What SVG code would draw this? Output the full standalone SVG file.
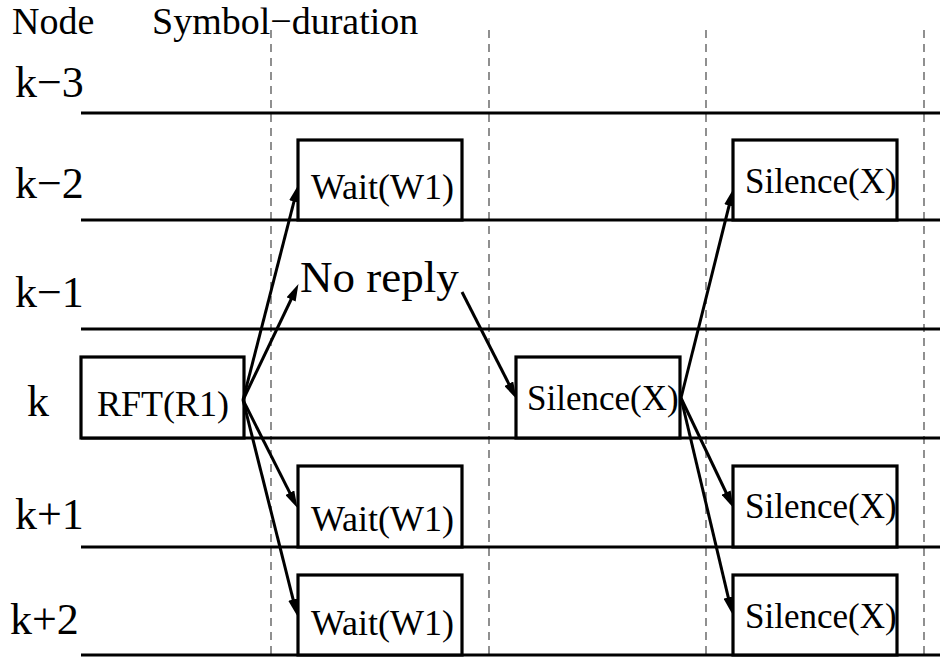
<svg xmlns="http://www.w3.org/2000/svg" width="940" height="659" viewBox="0 0 940 659">
<style>
  .hdr { font-size: 38px; }
  .lbl { font-size: 44px; }
  .nr { font-size: 45px; }
  .box { font-size: 36px; }
  .sil { font-size: 35px; }
  .lane { stroke: #000; stroke-width: 3.2; fill: none; }
  .frame { stroke: #000; stroke-width: 3.2; fill: #fff; }
  .grid { stroke: #555; stroke-width: 1.3; stroke-dasharray: 8 6; fill: none; }
  .arr { stroke: #000; stroke-width: 3; fill: none; marker-end: url(#ah); }
</style>
<defs>
  <marker id="ah" markerUnits="userSpaceOnUse" markerWidth="17" markerHeight="10" refX="6" refY="5" orient="auto" viewBox="0 0 17 10">
    <path d="M0,0 L17,5 L0,10 Z" fill="#000"/>
  </marker>
</defs>
<rect width="940" height="659" fill="#fff"/>

<g id="grid">
  <line class="grid" x1="271" y1="30" x2="271" y2="659"/>
  <line class="grid" x1="489" y1="30" x2="489" y2="659"/>
  <line class="grid" x1="706" y1="30" x2="706" y2="659"/>
  <line class="grid" x1="924" y1="30" x2="924" y2="659"/>
</g>

<g id="lanes">
  <line class="lane" x1="81" y1="113" x2="940" y2="113"/>
  <line class="lane" x1="81" y1="220" x2="940" y2="220"/>
  <line class="lane" x1="81" y1="329" x2="940" y2="329"/>
  <line class="lane" x1="81" y1="438" x2="940" y2="438"/>
  <line class="lane" x1="81" y1="547" x2="940" y2="547"/>
  <line class="lane" x1="81" y1="655" x2="940" y2="655"/>
</g>

<g font-family="'Liberation Serif', 'Times New Roman', Times, serif" fill="#000">
<g id="header">
  <text class="hdr" x="12" y="34">Node</text>
  <text class="hdr" x="152" y="34">Symbol−duration</text>
</g>

<g id="labels">
  <text class="lbl" x="15" y="97">k−3</text>
  <text class="lbl" x="15" y="198">k−2</text>
  <text class="lbl" x="15" y="307">k−1</text>
  <text class="lbl" x="27" y="416">k</text>
  <text class="lbl" x="15" y="529">k+1</text>
  <text class="lbl" x="10" y="634">k+2</text>
</g>

<g id="rft">
  <rect class="frame" x="81" y="357" width="163" height="81"/>
  <text class="box" x="97" y="416">RFT(R1)</text>
</g>
<g id="wait-km2">
  <rect class="frame" x="298" y="140" width="164" height="80"/>
  <text class="box" x="311" y="199">Wait(W1)</text>
</g>
<g id="wait-kp1">
  <rect class="frame" x="298" y="466" width="164" height="81"/>
  <text class="box" x="311" y="531">Wait(W1)</text>
</g>
<g id="wait-kp2">
  <rect class="frame" x="298" y="575" width="164" height="80"/>
  <text class="box" x="311" y="635">Wait(W1)</text>
</g>
<g id="silence-k">
  <rect class="frame" x="516" y="357" width="164" height="81"/>
  <text class="sil" x="527" y="410">Silence(X)</text>
</g>
<g id="silence-km2">
  <rect class="frame" x="733" y="140" width="164" height="80"/>
  <text class="sil" x="745" y="193">Silence(X)</text>
</g>
<g id="silence-kp1">
  <rect class="frame" x="733" y="466" width="164" height="81"/>
  <text class="sil" x="745" y="518">Silence(X)</text>
</g>
<g id="silence-kp2">
  <rect class="frame" x="733" y="575" width="164" height="80"/>
  <text class="sil" x="745" y="628">Silence(X)</text>
</g>
<g id="noreply">
  <text class="nr" x="300" y="292">No reply</text>
</g>
</g>

<g id="connectors">
  <line class="arr" x1="243" y1="400" x2="295.5" y2="195.7"/>
  <line class="arr" x1="243" y1="400" x2="293.7" y2="294"/>
  <line class="arr" x1="243" y1="400" x2="292.5" y2="498.1"/>
  <line class="arr" x1="243" y1="400" x2="294.6" y2="605.3"/>
  <line class="arr" x1="462" y1="292" x2="511.5" y2="389.1"/>
  <line class="arr" x1="681" y1="398" x2="730.6" y2="199.7"/>
  <line class="arr" x1="681" y1="398" x2="728.7" y2="498"/>
  <line class="arr" x1="681" y1="398" x2="729.7" y2="603.3"/>
</g>
</svg>
